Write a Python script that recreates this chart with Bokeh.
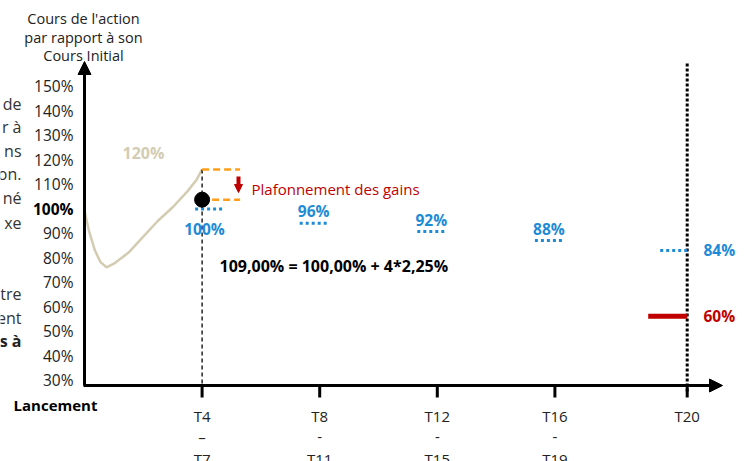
from bokeh.plotting import figure
from bokeh.models import Arrow, NormalHead
from bokeh.core.properties import value
from bokeh.embed import file_html
from bokeh.resources import INLINE

# ---------------- data ----------------
y_ticks = [30, 40, 50, 60, 70, 80, 90, 100, 110, 120, 130, 140, 150]
obs_quarter = [4, 8, 12, 16, 20]
obs_top = ["T4", "T8", "T12", "T16", "T20"]
obs_mid = ["\u2013", "-", "-", "-", ""]
obs_bottom = ["T7", "T11", "T15", "T19", ""]

autocall_labels = ["100%", "96%", "92%", "88%", "84%"]
autocall_levels = [99.8, 94.0, 90.6, 86.9, 82.9]   # drawn level

barrier_label = "60%"
barrier_level = 56.0

curve_t = [0, 0.15, 0.35, 0.55, 0.75, 1.0, 1.5, 2.0, 2.5, 3.0, 3.5, 3.8, 4.0]
curve_v = [99.0, 91.0, 83.0, 78.0, 76.0, 77.5, 82.0, 88.5, 95.0, 100.5, 107.0, 111.5, 116.0]

cap_top = 115.9
coupon_point = 103.6
peak_label = "120%"
formula = "109,00% = 100,00% + 4*2,25%"
cap_text = "Plafonnement des gains"
y_title = ["Cours de l'action", "par rapport à son", "Cours Initial"]
left_fragments = ["de", "r à", "ns", "on.", "né", "xe", "tre", "ent", "s à"]

# ---------------- layout helpers (picture pixels -> data) ----------------
PXQ = 29.4      # px per quarter
PXP = 2.45      # px per percent
def X(px):
    return (px - 84) / PXQ
def Y(py):
    return 100 - (py - 208) / PXP
def xpos(q):
    return q + 0.5 if q >= 20 else q

FONT = value("Open Sans")
BLUE = "#1E8BD6"
RED = "#C00000"
ORANGE = "#FF9E1B"
BEIGE = "#D3CCB2"
GREY = "#222222"

W, H = 755, 461
p = figure(width=W, height=H, output_backend="svg", toolbar_location=None,
           x_range=(X(0), X(W)), y_range=(Y(H), Y(0)),
           min_border=0, x_axis_location=None, y_axis_location=None)
p.outline_line_color = None
p.grid.grid_line_color = None
p.background_fill_color = "white"
p.border_fill_color = "white"

# beige price path
p.line(curve_t, curve_v, line_color=BEIGE, line_width=2.5)
p.text(x=[X(143)], y=[Y(152)], text=[peak_label], text_font=FONT, text_font_size="16px",
       text_font_style="bold", text_color=BEIGE, text_align="center", text_baseline="middle")

# axes
axis_y_val = Y(385)
p.add_layout(Arrow(end=NormalHead(size=13, fill_color="black", line_color="black", line_width=1),
                   x_start=0, y_start=axis_y_val, x_end=0, y_end=Y(61),
                   line_width=3, line_color="black"))
p.add_layout(Arrow(end=NormalHead(size=13, fill_color="black", line_color="black", line_width=1),
                   x_start=X(83), y_start=axis_y_val, x_end=X(722), y_end=axis_y_val,
                   line_width=3, line_color="black"))

# y tick labels
reg = [v for v in y_ticks if v != 100]
p.text(x=[X(73)] * len(reg), y=reg, text=[f"{v}%" for v in reg], text_font=FONT,
       text_font_size="15.5px", text_align="right", text_baseline="middle", text_color=GREY)
p.text(x=[X(73)], y=[100], text=["100%"], text_font=FONT, text_font_size="15.5px",
       text_font_style="bold", text_align="right", text_baseline="middle", text_color="black")

# y title
p.text(x=[X(83)] * 3, y=[Y(18), Y(37), Y(55)], text=y_title, text_font=FONT,
       text_font_size="14.5px", text_align="center", text_baseline="middle", text_color=GREY)

# left cut fragments of slide text
frag_py = [103, 126, 150, 173, 197, 222, 293, 317, 340]
p.text(x=[X(21)] * 8, y=[Y(v) for v in frag_py[:8]], text=left_fragments[:8], text_font=FONT,
       text_font_size="16px", text_align="right", text_baseline="middle", text_color="#333333")
p.text(x=[X(21)], y=[Y(frag_py[8])], text=[left_fragments[8]], text_font=FONT, text_font_size="16px",
       text_font_style="bold", text_align="right", text_baseline="middle", text_color=GREY)

# x ticks & labels
xs = [xpos(q) for q in obs_quarter]
p.segment(x0=xs, y0=[axis_y_val] * 5, x1=xs, y1=[Y(397)] * 5, line_width=3, line_color="black")
p.text(x=xs, y=[Y(415)] * 5, text=obs_top, text_font=FONT, text_font_size="15px",
       text_align="center", text_baseline="middle", text_color=GREY)
p.text(x=xs[:4], y=[Y(436)] * 4, text=obs_mid[:4], text_font=FONT, text_font_size="15px",
       text_align="center", text_baseline="middle", text_color=GREY)
p.text(x=xs[:4], y=[Y(458)] * 4, text=obs_bottom[:4], text_font=FONT, text_font_size="15px",
       text_align="center", text_baseline="middle", text_color=GREY)
p.text(x=[X(55)], y=[Y(404)], text=["Lancement"], text_font=FONT, text_font_size="15px",
       text_font_style="bold", text_align="center", text_baseline="middle", text_color="black")

# vertical lines
p.segment(x0=[xs[0]], y0=[cap_top], x1=[xs[0]], y1=[axis_y_val], line_color="black",
          line_width=1.3, line_dash="4 3")
p.segment(x0=[xs[4]], y0=[Y(63)], x1=[xs[4]], y1=[Y(392)], line_color="black",
          line_width=3, line_dash="3 2")

# autocall levels (blue dotted)
seg_l = [xs[0] - 7 / PXQ] + [x - 20 / PXQ for x in xs[1:4]] + [xs[4] - 27 / PXQ]
seg_r = [xs[0] + 21 / PXQ] + [x + 8 / PXQ for x in xs[1:4]] + [xs[4]]
p.segment(x0=seg_l, y0=autocall_levels, x1=seg_r, y1=autocall_levels, line_color=BLUE,
          line_width=3, line_dash="3 3")
lab_x = [(a + b) / 2 for a, b in zip(seg_l[1:4], seg_r[1:4])]
lab_y = [lv + 12 / PXP for lv in autocall_levels[1:4]]
p.text(x=lab_x, y=lab_y, text=autocall_labels[1:4], text_font=FONT, text_font_size="15.5px",
       text_font_style="bold", text_color=BLUE, text_align="center", text_baseline="middle")
p.text(x=[X(204)], y=[autocall_levels[0] - 20 / PXP], text=[autocall_labels[0]], text_font=FONT,
       text_font_size="15.5px", text_font_style="bold", text_color=BLUE, text_align="center",
       text_baseline="middle")
p.text(x=[X(703)], y=[autocall_levels[4]], text=[autocall_labels[4]], text_font=FONT,
       text_font_size="15.5px", text_font_style="bold", text_color=BLUE, text_align="left",
       text_baseline="middle")

# capital barrier
p.segment(x0=[xs[4] - 39 / PXQ], y0=[barrier_level], x1=[xs[4]], y1=[barrier_level],
          line_color=RED, line_width=5)
p.text(x=[X(703)], y=[barrier_level], text=[barrier_label], text_font=FONT, text_font_size="15.5px",
       text_font_style="bold", text_color=RED, text_align="left", text_baseline="middle")

# cap on gains
p.segment(x0=[xs[0], xs[0] + 10 / PXQ], y0=[cap_top, coupon_point],
          x1=[xs[0] + 38 / PXQ] * 2, y1=[cap_top, coupon_point],
          line_color=ORANGE, line_width=2.5, line_dash="7 4")
p.add_layout(Arrow(end=NormalHead(size=8, fill_color=RED, line_color=RED, line_width=1),
                   x_start=X(238), y_start=Y(176), x_end=X(238), y_end=Y(192),
                   line_width=4, line_color=RED))
p.text(x=[X(251)], y=[Y(188)], text=[cap_text], text_font=FONT, text_font_size="15px",
       text_color=RED, text_align="left", text_baseline="middle")

p.scatter([xs[0]], [coupon_point], size=15, fill_color="black", line_color="black")

p.text(x=[X(219)], y=[Y(265)], text=[formula], text_font=FONT, text_font_size="16px",
       text_font_style="bold", text_color="black", text_align="left", text_baseline="middle")

open("out.html", "w").write(file_html(p, INLINE))
